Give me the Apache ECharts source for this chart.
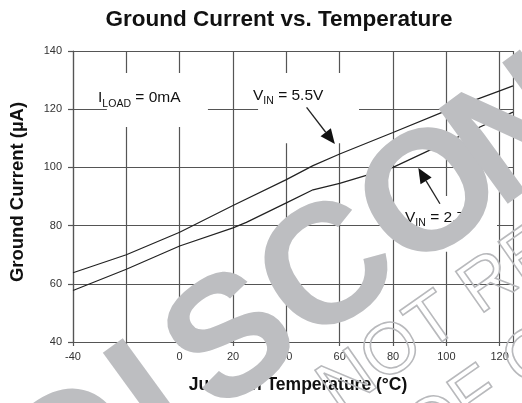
<!DOCTYPE html>
<html><head><meta charset="utf-8">
<script src="https://cdn.jsdelivr.net/npm/echarts@6/dist/echarts.min.js"></script>
<style>html,body{margin:0;padding:0;background:#fff}#c{width:522px;height:403px}</style>
</head><body><div id="c"></div>
<script>
// ---- data ----
const temps55 = [-40, -20, 0, 20, 40, 50, 60, 80, 100, 120, 125];
const gnd55   = [63.8, 70, 77.7, 86.9, 95.8, 100.6, 104.6, 112, 119.5, 126.3, 128];
const temps27 = [-40, -20, 0, 20, 25, 40, 50, 60, 80, 100, 120, 125];
const gnd27   = [57.7, 65, 73, 79.2, 81.1, 87.8, 92.3, 94.5, 100, 108.6, 117, 119];
const xTickLabels = [-40, 0, 20, 40, 60, 80, 100, 120];
const yTickLabels = [40, 60, 80, 100, 120, 140];
const titleText = 'Ground Current vs. Temperature';
const xName = 'Junction Temperature (°C)';
const yName = 'Ground Current (µA)';
const stampLetters = ['D', 'I', 'S', 'C', 'O', 'N', 'T', 'I', 'N', 'U', 'E', 'D'];

const FONT = "'Liberation Sans', Arial, Helvetica, sans-serif";
const chart = echarts.init(document.getElementById('c'), null, {renderer: 'canvas'});
const GRID = '#555';

chart.setOption({
  animation: false,
  grid: {left: 73, right: 9, top: 51, bottom: 61, containLabel: false},
  xAxis: {
    type: 'value', min: -40, max: 125, interval: 20,
    axisLine: {show: true, onZero: false, lineStyle: {color: GRID, width: 1.2}},
    axisTick: {show: true, length: 4, lineStyle: {color: GRID, width: 1.2}},
    axisLabel: {margin: 9, fontSize: 11, color: '#333', fontFamily: FONT,
      formatter: v => xTickLabels.includes(v) ? String(v) : ''},
    splitLine: {show: true, lineStyle: {color: GRID, width: 1.2}}
  },
  yAxis: {
    type: 'value', min: 40, max: 140, interval: 20,
    axisLine: {show: true, onZero: false, lineStyle: {color: GRID, width: 1.2}},
    axisTick: {show: true, length: 5, lineStyle: {color: GRID, width: 1.2}},
    axisLabel: {margin: 11, fontSize: 11, color: '#333', fontFamily: FONT,
      formatter: v => yTickLabels.includes(v) ? String(v) : ''},
    splitLine: {show: true, lineStyle: {color: GRID, width: 1.2}}
  },
  series: [
    {type: 'line', name: 'VIN 5.5V', data: temps55.map((t, i) => [t, gnd55[i]]),
     showSymbol: false, lineStyle: {color: '#222', width: 1.2}, z: 3},
    {type: 'line', name: 'VIN 2.7V', data: temps27.map((t, i) => [t, gnd27[i]]),
     showSymbol: false, lineStyle: {color: '#222', width: 1.2}, z: 3}
  ]
});

// annotation placement (data space)
const gapBoxes = [[-27.3, 132.4, 10.6, 113.9], [29.4, 132.4, 67.25, 108.3], [81.1, 90.2, 119, 71]];
const arrows = [[[47.6, 120.6], [58.2, 108]], [[97.6, 87.5], [89.5, 99.8]]];
const notes = [
  {at: [-30.6, 123.8], main: 'I', sub: 'LOAD', tail: ' = 0mA'},
  {at: [27.5, 124.5], main: 'V', sub: 'IN', tail: ' = 5.5V'},
  {at: [84.5, 82.6], main: 'V', sub: 'IN', tail: ' = 2.7V'}
];
// local offsets (px along the stamp baseline) for each stamp letter
const stampOffsets = [-25, 105, 171, 285, 408, 520, 640, 745, 792, 915, 1040, 1155];

function build() {
  const P = (x, y) => chart.convertToPixel({gridIndex: 0}, [x, y]);
  const g = [];
  gapBoxes.forEach(b => {
    const a = P(b[0], b[1]), c = P(b[2], b[3]);
    g.push({type: 'rect', z: 1, silent: true,
      shape: {x: a[0], y: a[1], width: c[0] - a[0], height: c[1] - a[1]}, style: {fill: '#fff'}});
  });
  arrows.forEach(ar => {
    const t = P(ar[0][0], ar[0][1]), h = P(ar[1][0], ar[1][1]);
    const dx = h[0] - t[0], dy = h[1] - t[1], L = Math.hypot(dx, dy);
    const ux = dx / L, uy = dy / L, hl = 15, hw = 6.5;
    const bx = h[0] - ux * hl, by = h[1] - uy * hl;
    g.push({type: 'line', z: 6, shape: {x1: t[0], y1: t[1], x2: bx, y2: by}, style: {stroke: '#222', lineWidth: 1.3}});
    g.push({type: 'polygon', z: 6, shape: {points: [[h[0], h[1]], [bx - uy * hw, by + ux * hw], [bx + uy * hw, by - ux * hw]]}, style: {fill: '#111'}});
  });
  notes.forEach(n => {
    const p = P(n.at[0], n.at[1]);
    g.push({type: 'text', z: 6, x: p[0], y: p[1], style: {
      text: '{m|' + n.main + '}{s|' + n.sub + '}{m|' + n.tail + '}',
      align: 'left', verticalAlign: 'middle', textAlign: 'left', textVerticalAlign: 'middle',
      rich: {
        m: {fontSize: 15.5, fontFamily: FONT, fill: '#111', lineHeight: 22, verticalAlign: 'middle'},
        s: {fontSize: 10.5, fontFamily: FONT, fill: '#111', lineHeight: 12, verticalAlign: 'bottom'}
      }}});
  });
  // titles
  g.push({type: 'text', z: 10, x: 279, y: 20, style: {text: titleText, fontSize: 22.5, fontWeight: 'bold', fontFamily: FONT, fill: '#111',
    align: 'center', verticalAlign: 'middle', textAlign: 'center', textVerticalAlign: 'middle'}});
  g.push({type: 'text', z: 10, x: 298, y: 385, style: {text: xName, fontSize: 17.5, fontWeight: 'bold', fontFamily: FONT, fill: '#111',
    align: 'center', verticalAlign: 'middle', textAlign: 'center', textVerticalAlign: 'middle'}});
  g.push({type: 'text', z: 10, x: 18, y: 192, rotation: Math.PI / 2, style: {text: yName, fontSize: 18.5, fontWeight: 'bold', fontFamily: FONT, fill: '#111',
    align: 'center', verticalAlign: 'middle', textAlign: 'center', textVerticalAlign: 'middle'}});
  // watermark stamp, letter by letter
  g.push({type: 'group', x: 50, y: 478, rotation: 36 * Math.PI / 180, silent: true,
    children: stampLetters.map((ch, i) => ({type: 'text', z: 100, x: stampOffsets[i], y: 0, style: {text: ch,
      fontSize: 171, fontWeight: 'bold', fontFamily: FONT, fill: '#bdbec1',
      align: 'left', verticalAlign: 'middle', textAlign: 'left', textVerticalAlign: 'middle'}}))});
  g.push({type: 'text', z: 99, silent: true, x: 327, y: 398, rotation: 35 * Math.PI / 180, style: {text: 'NOT RECOMMENDED',
    fontSize: 72, fontFamily: FONT, fill: 'rgba(0,0,0,0)', stroke: '#b8b9bc', lineWidth: 1.6,
    align: 'left', verticalAlign: 'middle', textAlign: 'left', textVerticalAlign: 'middle'}});
  g.push({type: 'text', z: 99, silent: true, x: 413, y: 442, rotation: 35 * Math.PI / 180, style: {text: 'OF CONTACT',
    fontSize: 72, fontFamily: FONT, fill: 'rgba(0,0,0,0)', stroke: '#b8b9bc', lineWidth: 1.6,
    align: 'left', verticalAlign: 'middle', textAlign: 'left', textVerticalAlign: 'middle'}});
  chart.setOption({graphic: {elements: g}});
}
build();
</script>
</body></html>
